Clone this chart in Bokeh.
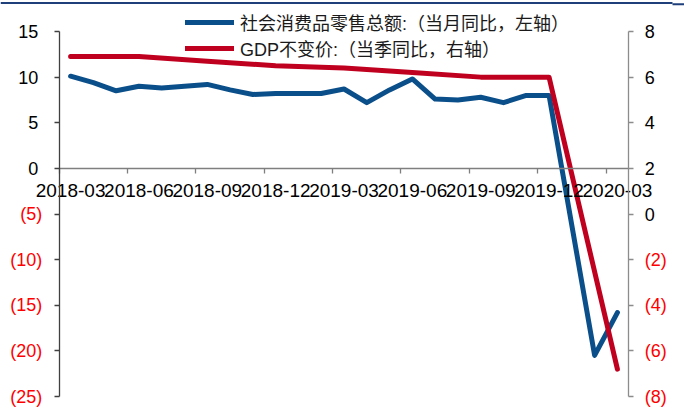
from bokeh.plotting import figure
from bokeh.models import (Range1d, LinearAxis, FixedTicker, ColumnDataSource, LabelSet,
                          Legend, LegendItem)
from bokeh.core.properties import value
from bokeh.embed import file_html
from bokeh.resources import INLINE

# ---------------- data ----------------
months = ["2018-03", "2018-04", "2018-05", "2018-06", "2018-07", "2018-08", "2018-09",
          "2018-10", "2018-11", "2018-12", "2019-01", "2019-02", "2019-03", "2019-04",
          "2019-05", "2019-06", "2019-07", "2019-08", "2019-09", "2019-10", "2019-11",
          "2019-12", "2020-01", "2020-02", "2020-03"]
x_tick_labels = ["2018-03", "2018-06", "2018-09", "2018-12", "2019-03", "2019-06",
                 "2019-09", "2019-12", "2020-03"]

retail_label = "社会消费品零售总额:（当月同比，左轴）"
retail_months = ["2018-03", "2018-04", "2018-05", "2018-06", "2018-07", "2018-08", "2018-09",
                 "2018-10", "2018-11", "2018-12", "2019-02", "2019-03", "2019-04", "2019-05",
                 "2019-06", "2019-07", "2019-08", "2019-09", "2019-10", "2019-11", "2019-12",
                 "2020-02", "2020-03"]
retail_values = [10.1, 9.4, 8.5, 9.0, 8.8, 9.0, 9.2, 8.6, 8.1, 8.2,
                 8.2, 8.7, 7.2, 8.6, 9.8, 7.6, 7.5, 7.8, 7.2, 8.0, 8.0,
                 -20.5, -15.8]

gdp_label = "GDP不变价:（当季同比，右轴）"
gdp_months = ["2018-03", "2018-06", "2018-09", "2018-12", "2019-03", "2019-06",
              "2019-09", "2019-12", "2020-03"]
gdp_values = [6.9, 6.9, 6.7, 6.5, 6.4, 6.2, 6.0, 6.0, -6.8]

left_ticks = [-25, -20, -15, -10, -5, 0, 5, 10, 15]
right_ticks = [-8, -6, -4, -2, 0, 2, 4, 6, 8]

# ---------------- layout (pixels) ----------------
W, H = 684, 418
PL, PR = 58.7, 628.3      # plot area left / right edge
PT, PB = 31.0, 396.0      # plot area top / bottom edge

FONT = "Liberation Sans, Noto Sans CJK SC"
FS = "18px"
FS_X = "19px"
BLUE = "#0B4F8A"
RED = "#C0001F"
NEG = "#FF0000"
RULE = "#1F3F7A"

idx = {m: i for i, m in enumerate(months)}

# data extents of the plot area
x0, x1 = -0.5, len(months) - 0.5
l0, l1 = left_ticks[0], left_ticks[-1]
r0, r1 = right_ticks[0], right_ticks[-1]


def extend(a, b, lo_px, hi_px, span_px):
    k = (b - a) / span_px
    return a - lo_px * k, b + hi_px * k


xs, xe = extend(x0, x1, PL, W - PR, PR - PL)
ls, le = extend(l0, l1, H - PB, PT, PB - PT)
rs, re_ = extend(r0, r1, H - PB, PT, PB - PT)

p = figure(width=W, height=H,
           x_range=Range1d(xs, xe), y_range=Range1d(ls, le),
           output_backend="svg", toolbar_location=None,
           x_axis_location=None, y_axis_location=None,
           min_border=0, min_border_left=0, min_border_right=0,
           min_border_top=0, min_border_bottom=0,
           outline_line_color=None, background_fill_color="white",
           border_fill_color="white")
p.extra_y_ranges = {"right": Range1d(rs, re_),
                    "page": Range1d(H, 0)}
p.extra_x_ranges = {"page": Range1d(0, W)}
p.grid.visible = False

# header rule at the very top of the page (page pixel coordinates)
p.quad(left=[0, 672], right=[672, W], top=[1.5, 2.7], bottom=[3.4, 4.8],
       x_range_name="page", y_range_name="page",
       fill_color=RULE, line_color=None)

# x axis (crosses at y = 0 of the left axis)
xa = LinearAxis(
    ticker=FixedTicker(ticks=[idx[m] for m in x_tick_labels],
                       minor_ticks=[i - 0.5 for i in range(0, len(months), 3)]),
    fixed_location=0, bounds=(x0, x1))
xa.major_label_overrides = {idx[m]: m for m in x_tick_labels}
xa.major_tick_out = 5
xa.major_tick_in = 0
xa.major_tick_line_color = None
xa.minor_tick_out = 5
xa.minor_tick_in = 0
xa.minor_tick_line_color = "#7F7F7F"
xa.minor_tick_line_width = 1.3
xa.axis_line_color = "#7F7F7F"
xa.axis_line_width = 1.3
xa.major_label_standoff = 11
xa.major_label_text_font = FONT
xa.major_label_text_font_size = FS_X
xa.major_label_text_color = "black"
p.add_layout(xa, "below")

# left axis
la = LinearAxis(ticker=FixedTicker(ticks=left_ticks, minor_ticks=[]),
                fixed_location=x0, bounds=(l0, l1))
la.major_label_overrides = {t: ("" if t < 0 else str(t)) for t in left_ticks}
la.major_tick_out = 5
la.major_tick_in = 0
la.major_tick_line_color = "#404040"
la.major_tick_line_width = 1.3
la.axis_line_color = "#404040"
la.axis_line_width = 1.3
la.major_label_standoff = 16
la.major_label_text_font = FONT
la.major_label_text_font_size = FS
la.major_label_text_color = "black"
p.add_layout(la, "left")

# right axis
ra = LinearAxis(y_range_name="right", ticker=FixedTicker(ticks=right_ticks, minor_ticks=[]),
                fixed_location=x1, bounds=(r0, r1))
ra.major_label_overrides = {t: ("" if t < 0 else str(t)) for t in right_ticks}
ra.major_tick_out = 5
ra.major_tick_in = 0
ra.major_tick_line_color = "#8C8C8C"
ra.major_tick_line_width = 1.3
ra.axis_line_color = "#8C8C8C"
ra.axis_line_width = 1.3
ra.major_label_standoff = 11
ra.major_label_text_font = FONT
ra.major_label_text_font_size = FS
ra.major_label_text_color = "black"
p.add_layout(ra, "right")

# red bracketed negative tick labels
left_neg = [t for t in left_ticks if t < 0]
lsrc = ColumnDataSource(dict(y=left_neg, text=[f"({-t})" for t in left_neg]))
p.add_layout(LabelSet(x=x0, y="y", text="text", source=lsrc, x_offset=-17,
                      text_align="right", text_baseline="middle", text_color=NEG,
                      text_font=value(FONT), text_font_size=FS))
right_neg = [t for t in right_ticks if t < 0]
rsrc = ColumnDataSource(dict(y=right_neg, text=[f"({-t})" for t in right_neg]))
p.add_layout(LabelSet(x=x1, y="y", text="text", source=rsrc,
                      y_range_name="right", x_offset=16,
                      text_align="left", text_baseline="middle", text_color=NEG,
                      text_font=value(FONT), text_font_size=FS))

# series
blue = p.line(x=[idx[m] for m in retail_months], y=retail_values,
              line_color=BLUE, line_width=5, line_join="round", line_cap="round")
red = p.line(x=[idx[m] for m in gdp_months], y=gdp_values, y_range_name="right",
             line_color=RED, line_width=5, line_join="round", line_cap="round")

leg = Legend(items=[LegendItem(label=retail_label, renderers=[blue]),
                    LegendItem(label=gdp_label, renderers=[red])],
             location=(185, H - 61), glyph_width=49, glyph_height=24, label_height=24,
             label_standoff=6, spacing=0, padding=0, margin=0,
             border_line_color=None, background_fill_alpha=0,
             label_text_font=FONT, label_text_font_size=FS,
             label_text_color="#1A1A1A")
p.add_layout(leg)

open("out.html", "w").write(file_html(p, INLINE))
